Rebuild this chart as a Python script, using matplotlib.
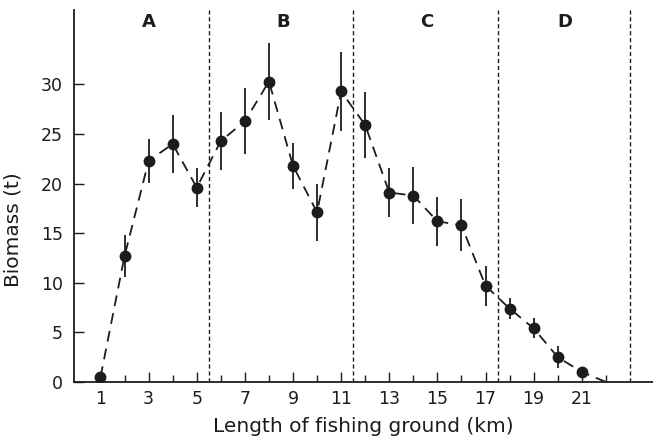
import matplotlib
matplotlib.use("Agg")
import matplotlib.pyplot as plt
from matplotlib.ticker import FixedLocator

# Data
km = [1, 2, 3, 4, 5, 6, 7, 8, 9, 10, 11, 12, 13, 14, 15, 16, 17, 18, 19, 20, 21]
biomass = [0.5, 12.7, 22.3, 24.0, 19.6, 24.3, 26.3, 30.3, 21.8, 17.1, 29.3,
           25.9, 19.1, 18.8, 16.2, 15.8, 9.7, 7.4, 5.4, 2.5, 1.0]
err = [0.0, 2.1, 2.2, 2.9, 2.0, 2.9, 3.3, 3.9, 2.3, 2.9, 4.0,
       3.3, 2.5, 2.9, 2.5, 2.6, 2.0, 1.1, 1.0, 1.1, 0.0]
end_km = 22
end_biomass = 0.0
boundaries = [5.5, 11.5, 17.5, 23]
region_labels = ["A", "B", "C", "D"]
region_centers = [3, 8.6, 14.55, 20.3]
x_ticklabels = [1, 3, 5, 7, 9, 11, 13, 15, 17, 19, 21]
x_minor = [2, 4, 6, 8, 10, 12, 14, 16, 18, 20, 22]
y_ticks = [0, 5, 10, 15, 20, 25, 30]

ink = "#1c1c1c"
fig = plt.figure(figsize=(6.53, 4.41), dpi=100)
ax = fig.add_axes([0.113, 0.134, 0.887, 0.843])

# dashed connecting line (including end at 22 km)
ax.plot(km + [end_km], biomass + [end_biomass], color=ink, lw=1.3,
        dashes=(6, 4), zorder=2)
# error bars
ax.errorbar(km, biomass, yerr=err, fmt="none", ecolor=ink, elinewidth=1.3,
            capsize=0, zorder=3)
# markers
ax.plot(km, biomass, "o", color=ink, markersize=7.5, zorder=4, lw=0)

for b in boundaries:
    ax.axvline(b, color=ink, lw=1.0, dashes=(3, 2), zorder=1)

for lab, xc in zip(region_labels, region_centers):
    ax.text(xc, 36.3, lab, ha="center", va="center", fontsize=13,
            fontweight="bold", color=ink)

ax.set_xlim(-0.11, 23.96)
ax.set_ylim(0, 37.5)
ax.set_xticks(x_ticklabels)
ax.set_xticklabels([str(v) for v in x_ticklabels])
ax.xaxis.set_minor_locator(FixedLocator(x_minor))
ax.set_yticks(y_ticks)
ax.set_yticklabels([str(v) for v in y_ticks])

ax.tick_params(axis="x", which="major", direction="in", length=7.5, width=1.0,
               color=ink, labelsize=12.5, labelcolor=ink, pad=6)
ax.tick_params(axis="x", which="minor", direction="in", length=5, width=1.0,
               color=ink)
ax.tick_params(axis="y", direction="in", length=7.5, width=1.0, color=ink,
               labelsize=12.5, labelcolor=ink, pad=8)

for s in ["top", "right"]:
    ax.spines[s].set_visible(False)
for s in ["left", "bottom"]:
    ax.spines[s].set_color(ink)
    ax.spines[s].set_linewidth(1.3)

ax.set_xlabel("Length of fishing ground (km)", fontsize=14.5, color=ink,
              labelpad=6)
ax.set_ylabel("Biomass (t)", fontsize=14.5, color=ink)
ax.yaxis.set_label_coords(-0.089, 0.41)

fig.savefig("out.png", dpi=100)
